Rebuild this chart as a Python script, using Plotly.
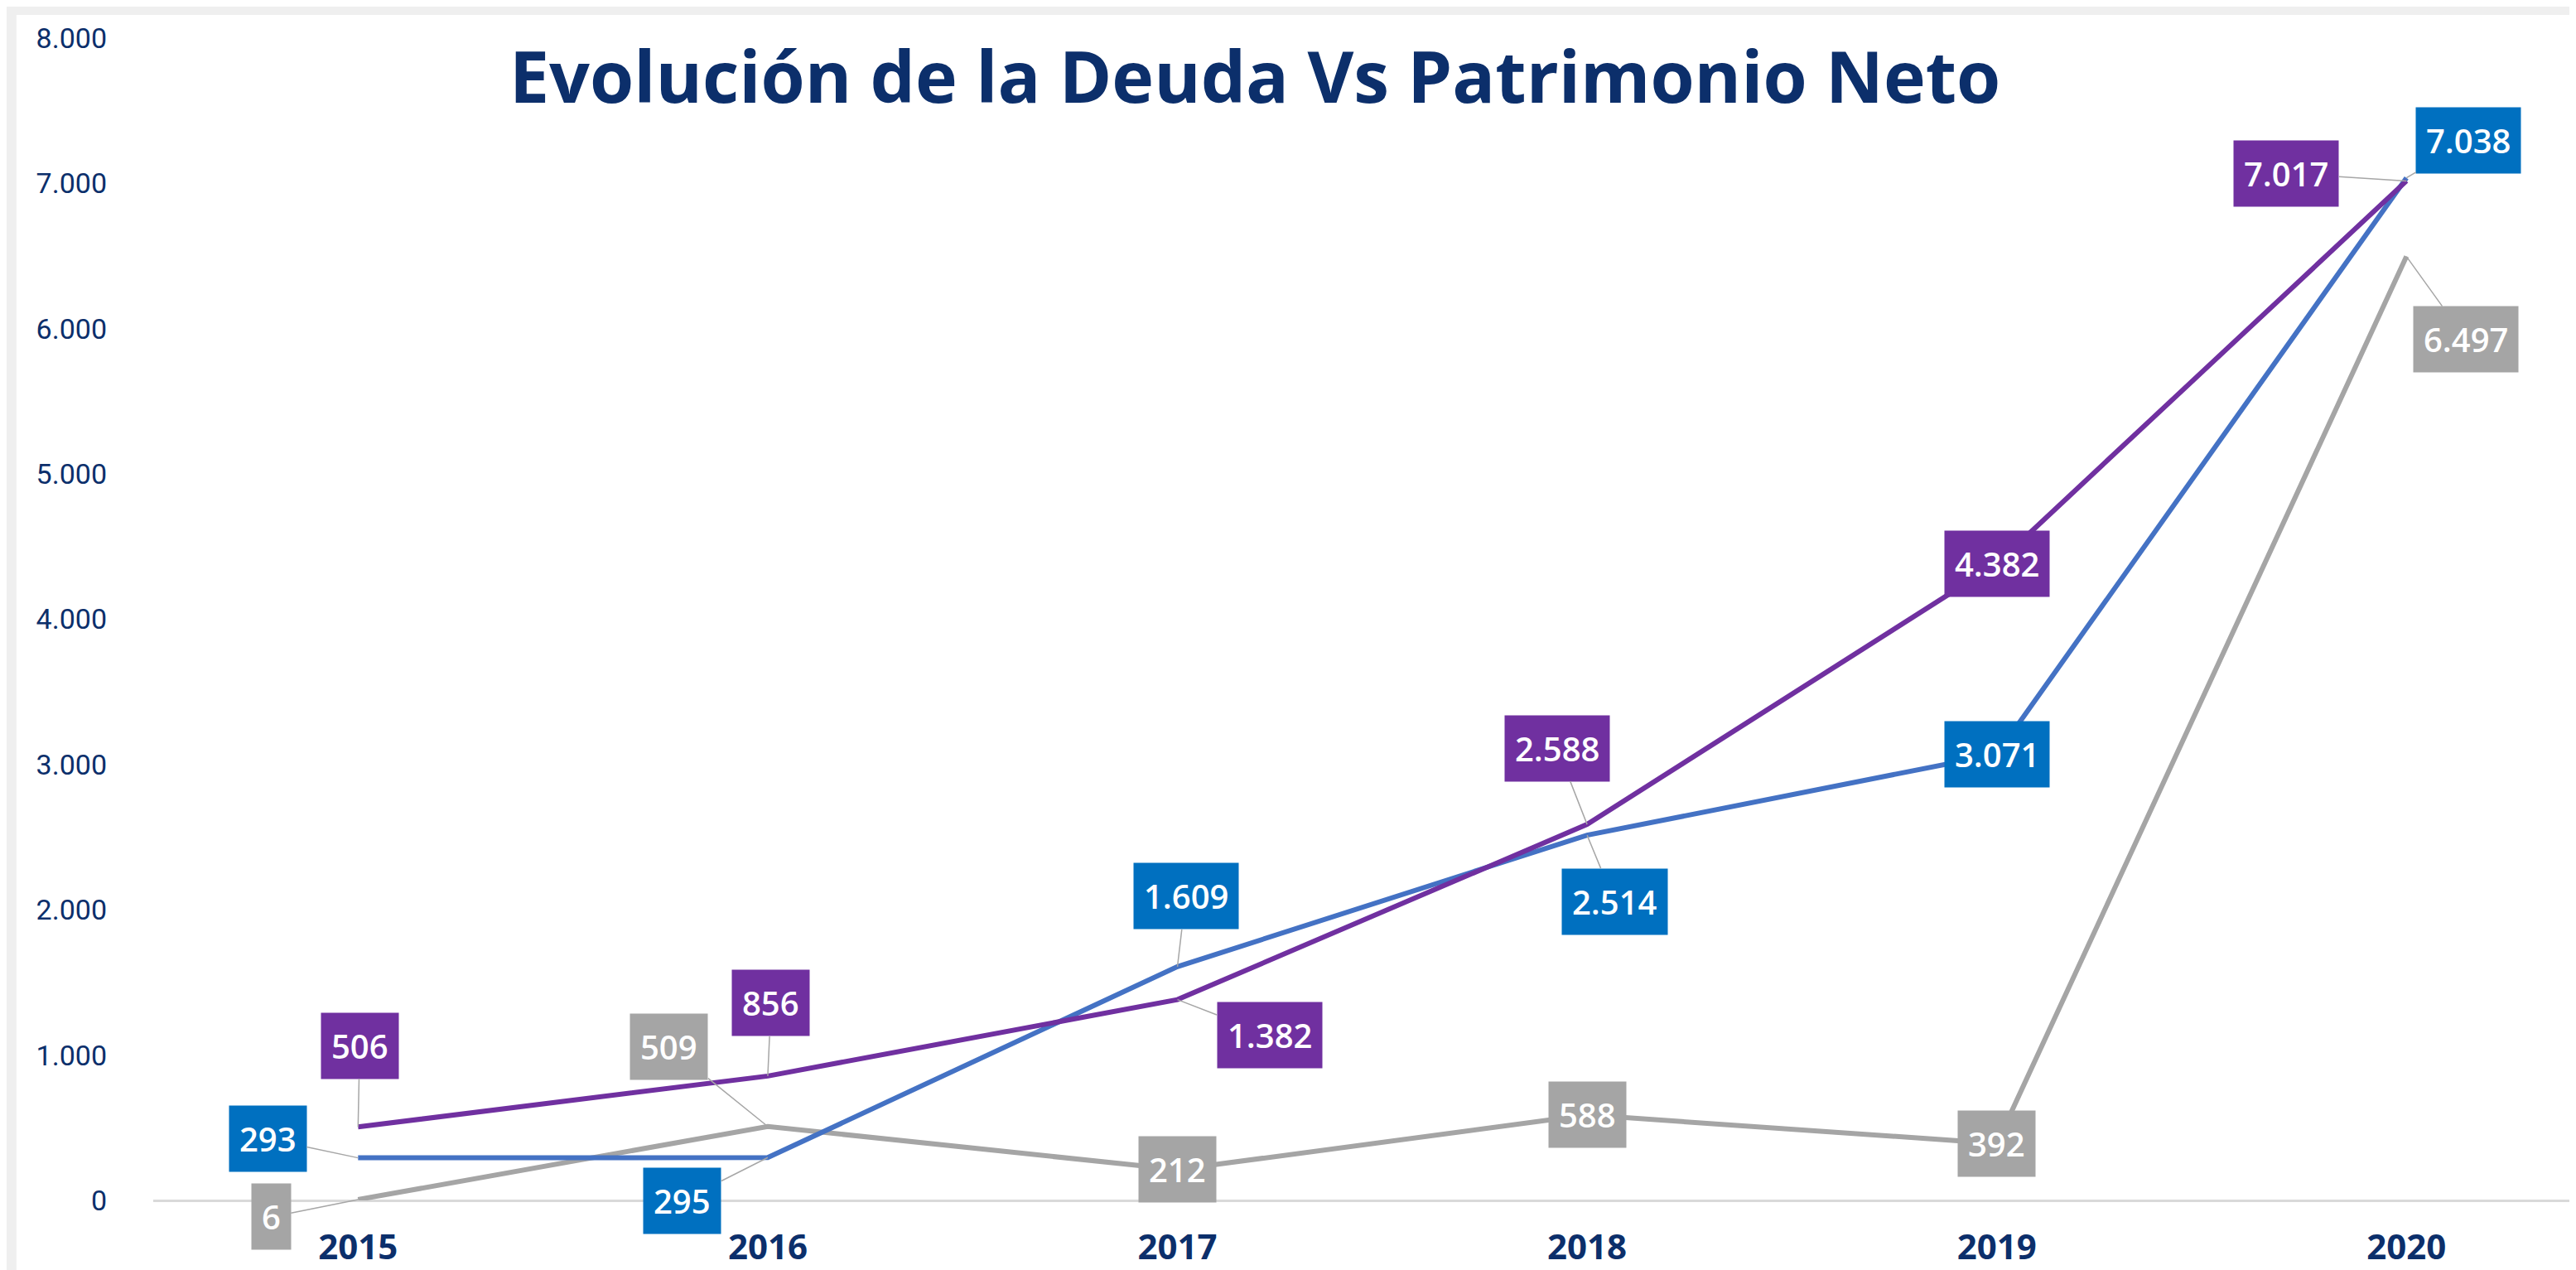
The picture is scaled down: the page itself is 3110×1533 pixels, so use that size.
import plotly.graph_objects as go

# ---- data ----
years = ["2015", "2016", "2017", "2018", "2019", "2020"]
deuda_purple = [506, 856, 1382, 2588, 4382, 7017]
deuda_blue = [293, 295, 1609, 2514, 3071, 7038]
patrimonio_gray = [6, 509, 212, 588, 392, 6497]
y_ticks = [0, 1000, 2000, 3000, 4000, 5000, 6000, 7000, 8000]
title_text = "Evolución de la Deuda Vs Patrimonio Neto"

# ---- styles ----
series = [
    # (values, line colour, label box colour, label offsets in px)
    (patrimonio_gray, "#a5a5a5", "#a5a5a5",
     [(-105, 21), (-119, -96), (0, 0), (0, 0), (0, 0), (72, 100)]),
    (deuda_blue, "#4472c4", "#0070c0",
     [(-109, -23), (-103, 52), (10, -85), (33, 80), (0, 0), (75, -45)]),
    (deuda_purple, "#7030a0", "#7030a0",
     [(2, -98), (4, -88), (111, 43), (-36, -92), (0, 0), (-145, -9)]),
]

NAVY = "#0c2f6b"


def fmt(v):
    return f"{v:,}".replace(",", ".")


fig = go.Figure()
annotations = []
for vals, lc, bc, offs in series:
    fig.add_trace(go.Scatter(
        x=years, y=vals, mode="lines",
        line=dict(color=lc, width=6),
        showlegend=False, hoverinfo="skip",
    ))
    for i, (yv, (ax, ay)) in enumerate(zip(vals, offs)):
        centered = (ax == 0 and ay == 0)
        annotations.append(dict(
            x=i, y=yv, xref="x", yref="y",
            text=fmt(yv),
            showarrow=True,
            ax=ax, ay=ay, axref="pixel", ayref="pixel",
            arrowhead=0, arrowwidth=1.5,
            arrowcolor="rgba(0,0,0,0)" if centered else "#a6a6a6",
            standoff=0,
            bgcolor=bc, borderpad=12,
            font=dict(family="Open Sans", size=40, color="white", weight=600),
        ))

fig.update_layout(
    width=3110, height=1533,
    margin=dict(l=177, r=0, t=38, b=92),
    paper_bgcolor="#efefef",
    plot_bgcolor="white",
    separators=",.",
    title=dict(
        text=title_text,
        x=0.4846, xref="container", xanchor="center",
        y=1 - 86 / 1533, yref="container", yanchor="middle",
        font=dict(family="Open Sans", size=86, color=NAVY, weight=700),
    ),
    annotations=annotations,
    shapes=[dict(
        type="rect", xref="paper", yref="paper",
        x0=-0.0563, x1=1.05, y0=-0.1, y1=1.02,
        fillcolor="white", line=dict(width=0), layer="below",
    )],
)

fig.update_xaxes(
    type="category",
    range=[-0.5, 5.43],
    showgrid=False, zeroline=False, showline=False,
    ticks="", ticklabelstandoff=28,
    tickfont=dict(family="Open Sans", size=42, color=NAVY, weight=700),
)
fig.update_yaxes(
    range=[0, 8000],
    tickvals=y_ticks, tickformat=",d",
    showgrid=False, zeroline=True, zerolinecolor="#d9d9d9", zerolinewidth=3,
    showline=False, ticks="", ticklabelstandoff=55,
    tickfont=dict(family="Roboto", size=34, color=NAVY),
)

fig.write_html("out.html")
